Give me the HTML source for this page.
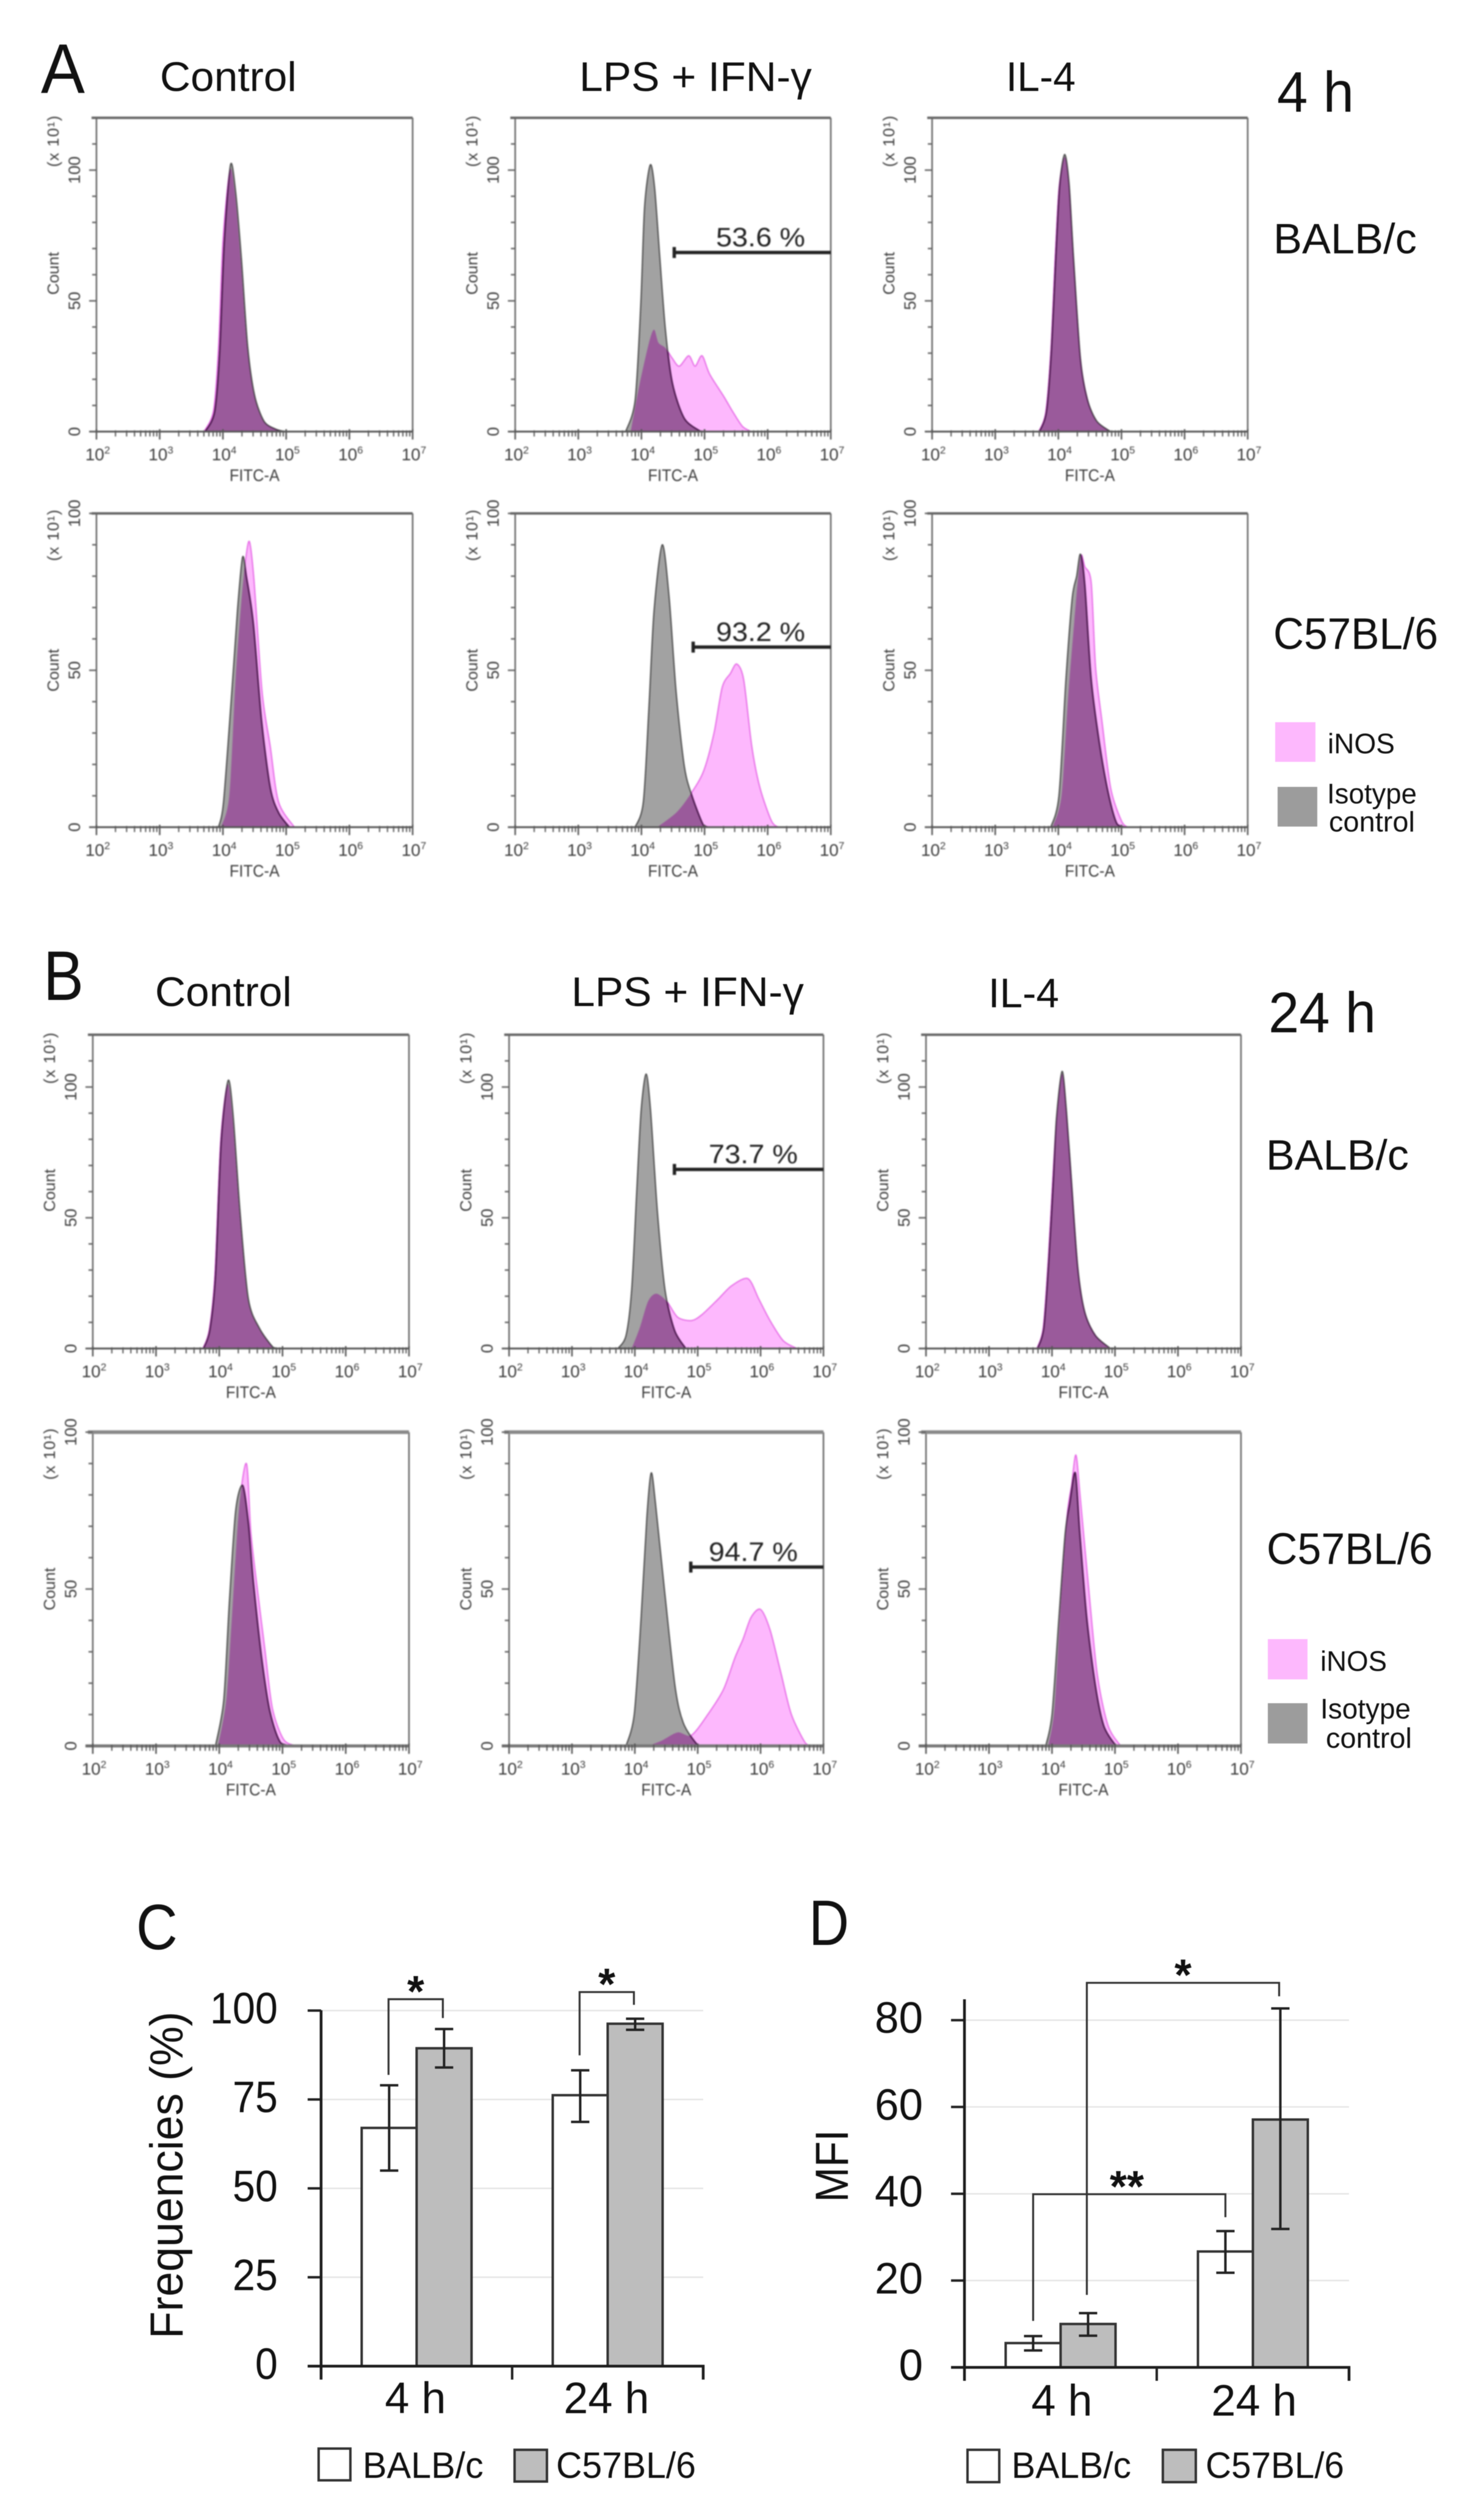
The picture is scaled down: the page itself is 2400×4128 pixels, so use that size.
<!DOCTYPE html>
<html lang="en">
<head>
<meta charset="utf-8">
<title>iNOS flow cytometry histograms and summary bar charts</title>
<style>
html,body{margin:0;padding:0;background:#fff;}
svg{display:block;}
text{font-family:"Liberation Sans",sans-serif;fill:#111;}
.soft{filter:blur(1.1px);}
.softer{filter:blur(0.6px);}
</style>
</head>
<body>
<svg id="figure" width="2400" height="4128" viewBox="0 0 2400 4128">
<rect x="0" y="0" width="2400" height="4128" fill="#ffffff"/>
<g id="hist-layer" class="soft"></g>
<g class="softer">
<text x="67" y="152" font-size="115" textLength="72" lengthAdjust="spacingAndGlyphs">A</text>
<text x="262" y="149" font-size="68" textLength="224" lengthAdjust="spacingAndGlyphs">Control</text>
<text x="949" y="149" font-size="68" textLength="381" lengthAdjust="spacingAndGlyphs">LPS + IFN-γ</text>
<text x="1648" y="149" font-size="68" textLength="114" lengthAdjust="spacingAndGlyphs">IL-4</text>
<text x="2092" y="183" font-size="94" textLength="126" lengthAdjust="spacingAndGlyphs">4 h</text>
<text x="2086" y="415" font-size="70" textLength="235" lengthAdjust="spacingAndGlyphs">BALB/c</text>
<text x="2086" y="1063" font-size="72" textLength="270" lengthAdjust="spacingAndGlyphs">C57BL/6</text>
<rect x="2089" y="1183" width="66" height="65" fill="#fdb8fd"/>
<text x="2175" y="1234" font-size="46" textLength="110" lengthAdjust="spacingAndGlyphs">iNOS</text>
<rect x="2093" y="1289" width="65" height="65" fill="#9c9c9c"/>
<text x="2174" y="1316" font-size="46" textLength="147" lengthAdjust="spacingAndGlyphs">Isotype</text>
<text x="2177" y="1362" font-size="46" textLength="141" lengthAdjust="spacingAndGlyphs">control</text>
</g>
<g class="softer">
<text x="71" y="1638" font-size="115" textLength="66" lengthAdjust="spacingAndGlyphs">B</text>
<text x="254" y="1648" font-size="68" textLength="224" lengthAdjust="spacingAndGlyphs">Control</text>
<text x="936" y="1648" font-size="68" textLength="381" lengthAdjust="spacingAndGlyphs">LPS + IFN-γ</text>
<text x="1619" y="1650" font-size="68" textLength="116" lengthAdjust="spacingAndGlyphs">IL-4</text>
<text x="2078" y="1691" font-size="94" textLength="176" lengthAdjust="spacingAndGlyphs">24 h</text>
<text x="2074" y="1916" font-size="70" textLength="234" lengthAdjust="spacingAndGlyphs">BALB/c</text>
<text x="2075" y="2562" font-size="72" textLength="272" lengthAdjust="spacingAndGlyphs">C57BL/6</text>
<rect x="2077" y="2685" width="65" height="66" fill="#fdb8fd"/>
<text x="2163" y="2737" font-size="46" textLength="109" lengthAdjust="spacingAndGlyphs">iNOS</text>
<rect x="2077" y="2790" width="65" height="66" fill="#9c9c9c"/>
<text x="2163" y="2815" font-size="46" textLength="148" lengthAdjust="spacingAndGlyphs">Isotype</text>
<text x="2172" y="2863" font-size="46" textLength="141" lengthAdjust="spacingAndGlyphs">control</text>
</g>
<g id="bar-layer" class="softer">
<text x="223" y="3193" font-size="105" textLength="68" lengthAdjust="spacingAndGlyphs">C</text>
<text transform="translate(299,3563) rotate(-90)" text-anchor="middle" font-size="76" textLength="536" lengthAdjust="spacingAndGlyphs">Frequencies (%)</text>
<rect x="522" y="4011" width="52" height="52" fill="#ffffff" stroke="#333333" stroke-width="4"/>
<text x="594" y="4059" font-size="60" textLength="198" lengthAdjust="spacingAndGlyphs">BALB/c</text>
<rect x="843" y="4013" width="53" height="52" fill="#bdbdbd" stroke="#333333" stroke-width="4"/>
<text x="911" y="4059" font-size="60" textLength="229" lengthAdjust="spacingAndGlyphs">C57BL/6</text>
<text x="1325" y="3186" font-size="105" textLength="66" lengthAdjust="spacingAndGlyphs">D</text>
<text transform="translate(1389,3548) rotate(-90)" text-anchor="middle" font-size="76" textLength="119" lengthAdjust="spacingAndGlyphs">MFI</text>
<rect x="1585" y="4013" width="52" height="53" fill="#ffffff" stroke="#333333" stroke-width="4"/>
<text x="1657" y="4059" font-size="60" textLength="196" lengthAdjust="spacingAndGlyphs">BALB/c</text>
<rect x="1905" y="4013" width="54" height="53" fill="#bdbdbd" stroke="#333333" stroke-width="4"/>
<text x="1975" y="4059" font-size="60" textLength="227" lengthAdjust="spacingAndGlyphs">C57BL/6</text>
</g>
</svg>
<script>
// ---- shared axis labels ----
const histYTicks = [0, 50, 100];
const histXExponents = [2, 3, 4, 5, 6, 7];

// ---- histogram readings: log10(FITC-A) and Count (x10^1) ----
const a1ControlIsoX = [3.72,3.87,3.95,4.02,4.12,4.2,4.29,4.39,4.5,4.65,4.83,4.98];
const a1ControlIsoY = [0,7.6,31,72,102,92,67,33,14,4,1,0];
const a1ControlNosX = [3.7,3.85,3.93,4.0,4.11,4.19,4.28,4.38,4.49,4.64,4.82,4.96];
const a1ControlNosY = [0,8,32,73,100,91,66,33,14,4,1,0];
const a1LpsIsoX = [3.75,3.9,3.99,4.05,4.14,4.21,4.29,4.38,4.49,4.68,4.94];
const a1LpsIsoY = [0,12,49,86,102,93,67,39,18.5,5,0];
const a1LpsNosX = [3.83,3.97,4.12,4.2,4.27,4.38,4.49,4.6,4.75,4.85,4.96,5.08,5.3,5.45,5.6,5.74];
const a1LpsNosY = [0,18,34,39,34,32,28,25,29,25,29,22,13.6,7.5,2,0];
const a1Il4IsoX = [3.7,3.81,3.89,3.96,4.02,4.1,4.17,4.24,4.35,4.46,4.61,4.83];
const a1Il4IsoY = [0,7.5,31,67,94,106,95,67,28,12.4,4,0];
const a1Il4NosX = [3.69,3.8,3.88,3.95,4.01,4.1,4.17,4.24,4.35,4.46,4.6,4.82];
const a1Il4NosY = [0,7.5,31,67,93,105,94,66,28,12.4,4,0];

const a2ControlIsoX = [3.93,4.01,4.14,4.23,4.31,4.37,4.48,4.61,4.75,4.88,5.05];
const a2ControlIsoY = [0,8,43,69,86,80,65,34,12.4,4.6,0];
const a2ControlNosX = [3.97,4.1,4.2,4.29,4.36,4.42,4.49,4.62,4.75,4.88,5.13];
const a2ControlNosY = [0,10,47,71.5,85.5,91,79,43,25.5,8,0];
const a2LpsIsoX = [3.9,4.03,4.12,4.2,4.33,4.44,4.55,4.68,4.8,4.98,5.07];
const a2LpsIsoY = [0,8,38.5,69,90,73,43,19.4,10,0.7,0];
const a2LpsNosX = [4.25,4.55,4.76,4.98,5.15,5.28,5.41,5.51,5.62,5.75,5.88,6.06,6.17];
const a2LpsNosY = [0,4.6,10,17.6,30,44.6,49,52,47,25.5,12.4,2,0];
const a2Il4IsoX = [3.88,4.01,4.12,4.22,4.29,4.35,4.42,4.52,4.66,4.8,4.93,5.07];
const a2Il4IsoY = [0,10,47,73,80,87,77,47,25.5,10,1,0];
const a2Il4NosX = [3.91,4.05,4.15,4.25,4.35,4.42,4.52,4.59,4.69,4.83,5.0,5.1];
const a2Il4NosY = [0,10,40,65,86,83,78,51,34,12.4,2,0];

const b1ControlIsoX = [3.75,3.85,3.94,4.03,4.14,4.22,4.33,4.46,4.63,4.85,4.93];
const b1ControlIsoY = [0,7,28,79,102.5,89,52,19,8,0.5,0];
const b1ControlNosX = [3.74,3.84,3.93,4.02,4.13,4.21,4.32,4.45,4.62,4.84,4.92];
const b1ControlNosY = [0,7,28,79,101,88,52,19,8,0.5,0];
const b1LpsIsoX = [3.73,3.86,3.95,4.03,4.1,4.18,4.25,4.36,4.48,4.63,4.81];
const b1LpsIsoY = [0,5,22.5,60,91,105,91,52,22.5,7,0];
const b1LpsNosX = [3.95,4.08,4.21,4.34,4.51,4.68,4.9,5.07,5.33,5.54,5.8,5.97,6.15,6.36,6.58];
const b1LpsNosY = [0,8,18,21,18,12,10.7,13,19,24,26.7,19,10.7,3,0];
const b1Il4IsoX = [3.77,3.87,3.95,4.02,4.07,4.16,4.23,4.31,4.41,4.52,4.69,4.93];
const b1Il4IsoY = [0,8,34,64,88,106,91,64,31,14,5,0];
const b1Il4NosX = [3.76,3.86,3.94,4.01,4.07,4.16,4.23,4.31,4.41,4.52,4.69,4.92];
const b1Il4NosY = [0,8,34,64,87,105,90,64,31,14,5,0];

const b2ControlIsoX = [3.94,4.07,4.16,4.26,4.37,4.46,4.54,4.67,4.8,4.97,5.19];
const b2ControlIsoY = [0,14.5,46,75,83,71,52,28,11,1,0];
const b2ControlNosX = [3.98,4.11,4.2,4.31,4.43,4.5,4.59,4.72,4.84,5.02,5.23];
const b2ControlNosY = [0,14.5,41,75,90,68,52,31,12,2,0];
const b2LpsIsoX = [3.86,3.99,4.1,4.19,4.26,4.33,4.47,4.64,4.77,4.98,5.07];
const b2LpsIsoY = [0,10,41,72.5,87,77,50,19,7.4,0.7,0];
const b2LpsNosX = [4.21,4.42,4.68,4.9,5.16,5.41,5.59,5.72,5.85,6.0,6.15,6.32,6.49,6.71,6.8];
const b2LpsNosY = [0,1.6,4.3,3.4,10,18,28,34,41,43.5,37,23.5,10,1,0];
const b2Il4IsoX = [3.9,4.0,4.11,4.21,4.28,4.37,4.44,4.55,4.69,4.82,4.99,5.06];
const b2Il4IsoY = [0,10,41,68,77,87,68,41,19,6.5,0.7,0];
const b2Il4NosX = [3.94,4.04,4.14,4.24,4.31,4.38,4.45,4.59,4.72,4.89,5.09];
const b2Il4NosY = [0,12,46,73.5,83,92.7,79,48.5,22.6,6.5,0];

// ---- gate readings ----
const gateStarts = [4.52, 4.82, 4.63, 4.89];
const gateCounts = [68.5, 57.4, 68.5, 57];
const gatePercents = ["53.6 %", "93.2 %", "73.7 %", "94.7 %"];

// ---- bar chart readings ----
const timeCategories = ["4 h", "24 h"];
const freqTicks = [0, 25, 50, 75, 100];
const freqBalb = [67, 76.2];
const freqBalbHigh = [79, 83.2];
const freqBalbLow = [55, 68.7];
const freqC57 = [89.4, 96.3];
const freqC57High = [94.8, 97.7];
const freqC57Low = [84, 94.6];
const mfiTicks = [0, 20, 40, 60, 80];
const mfiBalb = [5.6, 26.7];
const mfiBalbHigh = [7.2, 31.4];
const mfiBalbLow = [3.9, 21.8];
const mfiC57 = [10, 57.1];
const mfiC57High = [12.5, 82.7];
const mfiC57Low = [7.3, 31.9];
const freqSigMarks = ["*", "*"];
const freqSigTop = [103.2, 105.2];
const freqSigLeftEnd = [81.9, 87.4];
const freqSigRightEnd = [97.9, 101.6];
const mfiSigMarks = ["**", "*"];
const mfiSigTop = [39.9, 88.6];
const mfiSigLeftEnd = [10.7, 16.7];
const mfiSigRightEnd = [34.6, 85.5];

// ---- drawing ----
const root = document.getElementById('figure');
const histLayer = document.getElementById('hist-layer');
const barLayer = document.getElementById('bar-layer');
const NS = root.namespaceURI;
function el(tag, attrs, parent) {
  const e = document.createElementNS(NS, tag);
  for (const k in attrs) e.setAttribute(k, attrs[k]);
  parent.appendChild(e);
  return e;
}
let clipCounter = 0;

function drawHistogram(p) {
  const g = el('g', {}, histLayer);
  
  
  const x = v => p.left + (v - 2) * (p.right - p.left) / 5;
  const y = c => p.bottom - c * (p.bottom - p.top) / p.yMax;
  const curve = (xs, ys) => {
    const px = xs.map(x), py = ys.map(y);
    let d = 'M' + px[0].toFixed(1) + ' ' + py[0].toFixed(1);
    for (let i = 0; i < px.length - 1; i++) {
      const a = Math.max(i - 1, 0), b = Math.min(i + 2, px.length - 1);
      const c1x = px[i] + (px[i + 1] - px[a]) / 7, c1y = Math.min(py[i] + (py[i + 1] - py[a]) / 7, p.bottom);
      const c2x = px[i + 1] - (px[b] - px[i]) / 7, c2y = Math.min(py[i + 1] - (py[b] - py[i]) / 7, p.bottom);
      d += 'C' + c1x.toFixed(1) + ' ' + c1y.toFixed(1) + ' ' + c2x.toFixed(1) + ' ' + c2y.toFixed(1) + ' ' + px[i + 1].toFixed(1) + ' ' + py[i + 1].toFixed(1);
    }
    return d + 'Z';
  };
  const isoPath = curve(p.isoX, p.isoY);
  const nosPath = curve(p.nosX, p.nosY);

  const nos = el('path', {d: nosPath, fill: '#fdb8fd', stroke: '#e66ce6', 'stroke-width': 2}, g);
  
  
  const iso = el('path', {d: isoPath, fill: '#a2a2a2', stroke: '#4a4a4a', 'stroke-width': 2}, g);
  
  
  const clipId = 'clip-' + (clipCounter++);
  const clip = el('clipPath', {id: clipId}, g);
  el('path', {d: nosPath}, clip);
  const overlap = el('path', {d: isoPath, fill: '#9a5a9b', stroke: '#4e1a50', 'stroke-width': 2.5, 'clip-path': 'url(#' + clipId + ')'}, g);
  
  

  const axisColor = '#666666';
  const frame = el('path', {d: 'M' + p.left + ' ' + p.top + 'V' + p.bottom + 'M' + p.right + ' ' + p.top + 'V' + p.bottom, stroke: axisColor, 'stroke-width': 2.5, fill: 'none'}, g);
  
  
  const topLine = el('line', {x1: p.left - 8, x2: p.right, y1: p.top, y2: p.top, stroke: p.thick ? '#8a8a8a' : axisColor, 'stroke-width': p.thick ? 6 : 4}, g);
  
  
  const baseLine = el('line', {x1: p.left - 12, x2: p.right, y1: p.bottom, y2: p.bottom, stroke: p.thick ? '#777777' : '#555555', 'stroke-width': p.thick ? 5 : 3}, g);
  
  

  // y ticks
  for (let c = 0; c <= p.yMax; c += 10) {
    const major = c % 50 === 0;
    const t = el('line', {x1: p.left - (major ? 12 : 7), x2: p.left, y1: y(c), y2: y(c), stroke: axisColor, 'stroke-width': 2.5}, g);
    
    
  }
  // x ticks (log)
  for (let d = 2; d < 7; d++) {
    for (let m = 2; m <= 9; m++) {
      const v = d + Math.log10(m);
      const t = el('line', {x1: x(v), x2: x(v), y1: p.bottom - 2, y2: p.bottom + 8, stroke: '#555555', 'stroke-width': 2}, g);
      
      
    }
  }
  histXExponents.forEach(ex => {
    const t = el('line', {x1: x(ex), x2: x(ex), y1: p.bottom - 4, y2: p.bottom + 13, stroke: '#555555', 'stroke-width': 2.5}, g);
    
    
    const lab = el('text', {x: x(ex) + 2, y: p.bottom + 47, 'font-size': 28, 'text-anchor': 'middle', style: 'fill:#3c3c3c'}, g);
    
    
    lab.textContent = '10';
    const sup = el('tspan', {dy: -11, 'font-size': 17}, lab);
    sup.textContent = String(ex);
  });
  histYTicks.forEach(c => {
    const lab = el('text', {transform: 'translate(' + (p.left - 27) + ',' + y(c) + ') rotate(-90)', 'font-size': 27, 'text-anchor': 'middle', style: 'fill:#3c3c3c'}, g);
    
    
    lab.textContent = String(c);
  });
  const countLab = el('text', {transform: 'translate(' + (p.left - 62) + ',' + y(p.countAt) + ') rotate(-90)', 'font-size': 26, 'text-anchor': 'middle', textLength: 70, lengthAdjust: 'spacingAndGlyphs', style: 'fill:#3c3c3c'}, g);
  
  
  countLab.textContent = 'Count';
  const multLab = el('text', {transform: 'translate(' + (p.left - 62) + ',' + y(p.multAt) + ') rotate(-90)', 'font-size': 26, 'text-anchor': 'middle', textLength: 84, style: 'fill:#3c3c3c'}, g);
  
  
  multLab.textContent = '(x 10¹)';
  const xTitle = el('text', {x: (p.left + p.right) / 2, y: p.bottom + 81, 'font-size': 28, 'text-anchor': 'middle', textLength: 82, lengthAdjust: 'spacingAndGlyphs', style: 'fill:#3c3c3c'}, g);
  
  
  xTitle.textContent = 'FITC-A';

  if (p.gate !== undefined) {
    const gy = y(gateCounts[p.gate]);
    const gx = x(gateStarts[p.gate]);
    const bar = el('path', {d: 'M' + gx + ' ' + (gy - 9) + 'V' + (gy + 9) + 'M' + gx + ' ' + gy + 'H' + p.right, stroke: '#222222', 'stroke-width': 5.5, fill: 'none'}, g);
    
    
    const pct = el('text', {x: p.right - 115, y: gy - 10, 'font-size': 44, 'text-anchor': 'middle', textLength: 146, lengthAdjust: 'spacingAndGlyphs', style: 'fill:#222'}, g);
    
    
    pct.textContent = gatePercents[p.gate];
  }
}

const rowA1 = {top: 193, bottom: 707, yMax: 120, countAt: 60.5, multAt: 111, thick: false};
const rowA2 = {top: 841, bottom: 1355, yMax: 100, countAt: 50, multAt: 93, thick: false};
const rowB1 = {top: 1695, bottom: 2209, yMax: 120, countAt: 60.5, multAt: 111, thick: false};
const rowB2 = {top: 2346, bottom: 2860, yMax: 100, countAt: 50, multAt: 93, thick: true};
const colsA = [[158, 676], [844, 1361], [1527, 2044]];
const colsB = [[152, 670], [834, 1349], [1517, 2033]];
function histPanel(id, row, col, isoX, isoY, nosX, nosY, gate) {
  drawHistogram(Object.assign({id: id, left: col[0], right: col[1], isoX: isoX, isoY: isoY, nosX: nosX, nosY: nosY, gate: gate}, row));
}
histPanel('a-balb-control', rowA1, colsA[0], a1ControlIsoX, a1ControlIsoY, a1ControlNosX, a1ControlNosY);
histPanel('a-balb-lps', rowA1, colsA[1], a1LpsIsoX, a1LpsIsoY, a1LpsNosX, a1LpsNosY, 0);
histPanel('a-balb-il4', rowA1, colsA[2], a1Il4IsoX, a1Il4IsoY, a1Il4NosX, a1Il4NosY);
histPanel('a-c57-control', rowA2, colsA[0], a2ControlIsoX, a2ControlIsoY, a2ControlNosX, a2ControlNosY);
histPanel('a-c57-lps', rowA2, colsA[1], a2LpsIsoX, a2LpsIsoY, a2LpsNosX, a2LpsNosY, 1);
histPanel('a-c57-il4', rowA2, colsA[2], a2Il4IsoX, a2Il4IsoY, a2Il4NosX, a2Il4NosY);
histPanel('b-balb-control', rowB1, colsB[0], b1ControlIsoX, b1ControlIsoY, b1ControlNosX, b1ControlNosY);
histPanel('b-balb-lps', rowB1, colsB[1], b1LpsIsoX, b1LpsIsoY, b1LpsNosX, b1LpsNosY, 2);
histPanel('b-balb-il4', rowB1, colsB[2], b1Il4IsoX, b1Il4IsoY, b1Il4NosX, b1Il4NosY);
histPanel('b-c57-control', rowB2, colsB[0], b2ControlIsoX, b2ControlIsoY, b2ControlNosX, b2ControlNosY);
histPanel('b-c57-lps', rowB2, colsB[1], b2LpsIsoX, b2LpsIsoY, b2LpsNosX, b2LpsNosY, 3);
histPanel('b-c57-il4', rowB2, colsB[2], b2Il4IsoX, b2Il4IsoY, b2Il4NosX, b2Il4NosY);

function drawBarChart(c) {
  const g = el('g', {}, barLayer);
  
  
  const y = v => c.y0 - v * c.yScale;
  const bandW = c.bandWidth;
  const center = i => c.left + (i + 0.5) * bandW;
  const right = c.left + bandW * c.categories.length;

  c.ticks.forEach(t => {
    if (t > 0) {
      const grid = el('line', {x1: c.left, x2: right, y1: y(t), y2: y(t), stroke: '#e6e6e6', 'stroke-width': 2.5}, g);
      
      
    }
    const tick = el('line', {x1: c.left - 22, x2: c.left, y1: y(t), y2: y(t), stroke: '#222222', 'stroke-width': 4}, g);
    
    
    const lab = el('text', {x: c.left - c.labelGap, y: y(t) + 21, 'font-size': 72, 'text-anchor': 'end', textLength: String(t).length * c.digitW, lengthAdjust: 'spacingAndGlyphs'}, g);
    
    
    lab.textContent = String(t);
  });

  c.categories.forEach((cat, i) => {
    const cx = center(i);
    const b1 = el('rect', {x: cx - c.barW, y: y(c.balb[i]), width: c.barW, height: c.y0 - y(c.balb[i]), fill: '#ffffff', stroke: '#333333', 'stroke-width': 4}, g);
    
    
    const b2 = el('rect', {x: cx, y: y(c.c57[i]), width: c.barW, height: c.y0 - y(c.c57[i]), fill: '#bdbdbd', stroke: '#333333', 'stroke-width': 4}, g);
    
    
    const ex1 = cx - c.barW / 2, ex2 = cx + c.barW / 2;
    const e1 = el('path', {d: 'M' + (ex1 - 15) + ' ' + y(c.balbHigh[i]) + 'H' + (ex1 + 15) + 'M' + ex1 + ' ' + y(c.balbHigh[i]) + 'V' + y(c.balbLow[i]) + 'M' + (ex1 - 15) + ' ' + y(c.balbLow[i]) + 'H' + (ex1 + 15), stroke: '#222222', 'stroke-width': 4, fill: 'none'}, g);
    
    
    const e2 = el('path', {d: 'M' + (ex2 - 15) + ' ' + y(c.c57High[i]) + 'H' + (ex2 + 15) + 'M' + ex2 + ' ' + y(c.c57High[i]) + 'V' + y(c.c57Low[i]) + 'M' + (ex2 - 15) + ' ' + y(c.c57Low[i]) + 'H' + (ex2 + 15), stroke: '#222222', 'stroke-width': 4, fill: 'none'}, g);
    
    
    const lab = el('text', {x: cx + c.catShift, y: c.y0 + c.catDrop, 'font-size': 72, 'text-anchor': 'middle'}, g);
    
    
    lab.textContent = cat;
  });

  const axis = el('path', {d: 'M' + c.left + ' ' + c.axisTop + 'V' + (c.y0 + 22) + 'M' + (c.left - 22) + ' ' + c.y0 + 'H' + right + 'V' + (c.y0 + 22), stroke: '#1c1c1c', 'stroke-width': 4.5, fill: 'none'}, g);
  
  
  c.categories.forEach((cat, i) => {
    if (i === 0) return;
    const t = el('line', {x1: c.left + i * bandW, x2: c.left + i * bandW, y1: c.y0, y2: c.y0 + 22, stroke: '#222222', 'stroke-width': 4}, g);
    
    
  });

  c.sigMarks.forEach((mark, i) => {
    const xa = c.sigLeftX(center, i), xb = c.sigRightX(center, i);
    const br = el('path', {d: 'M' + xa + ' ' + y(c.sigLeftEnd[i]) + 'V' + y(c.sigTop[i]) + 'H' + xb + 'V' + y(c.sigRightEnd[i]), stroke: '#333333', 'stroke-width': 3.2, fill: 'none'}, g);
    
    
    const st = el('text', {x: (xa + xb) / 2 + (mark === '**' ? -4 : 0), y: y(c.sigTop[i]) + 12, 'font-size': 72, 'font-weight': 'bold', 'text-anchor': 'middle'}, g);
    
    
    st.textContent = mark;
  });
}

drawBarChart({
  id: 'frequencies', left: 526, y0: 3876, yScale: 5.825, axisTop: 3293, bandWidth: 313, barW: 90,
  labelGap: 71, digitW: 37, catShift: -2, catDrop: 77,
  categories: timeCategories, ticks: freqTicks,
  balb: freqBalb, balbHigh: freqBalbHigh, balbLow: freqBalbLow,
  c57: freqC57, c57High: freqC57High, c57Low: freqC57Low,
  sigMarks: freqSigMarks, sigTop: freqSigTop, sigLeftEnd: freqSigLeftEnd, sigRightEnd: freqSigRightEnd,
  sigLeftX: (ctr, i) => ctr(i) - 46, sigRightX: (ctr, i) => ctr(i) + 43
});
drawBarChart({
  id: 'mfi', left: 1580, y0: 3878, yScale: 7.11, axisTop: 3275, bandWidth: 315, barW: 90,
  labelGap: 68, digitW: 39.5, catShift: 2, catDrop: 79,
  categories: timeCategories, ticks: mfiTicks,
  balb: mfiBalb, balbHigh: mfiBalbHigh, balbLow: mfiBalbLow,
  c57: mfiC57, c57High: mfiC57High, c57Low: mfiC57Low,
  sigMarks: mfiSigMarks, sigTop: mfiSigTop, sigLeftEnd: mfiSigLeftEnd, sigRightEnd: mfiSigRightEnd,
  sigLeftX: (ctr, i) => ctr(0) + (i === 0 ? -45 : 43), sigRightX: (ctr, i) => ctr(1) + (i === 0 ? -45 : 43)
});
</script>
</body>
</html>
